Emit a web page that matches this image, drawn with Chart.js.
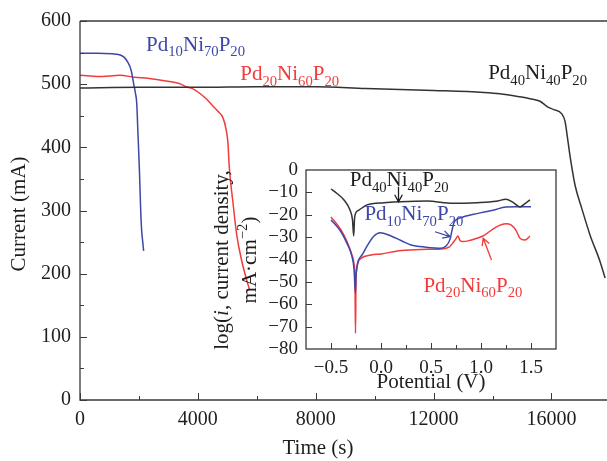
<!DOCTYPE html>
<html><head><meta charset="utf-8">
<script src="https://cdn.jsdelivr.net/npm/chart.js@4/dist/chart.umd.min.js"></script>
<style>
html,body{margin:0;padding:0;background:#fff;}
#wrap{position:relative;width:607px;height:461px;overflow:hidden;background:#fff;}
#main{position:absolute;left:0;top:0;}
#inset{position:absolute;left:200px;top:150px;}
</style></head><body>
<div id="wrap"><canvas id="main" width="607" height="461"></canvas><canvas id="inset" width="370" height="250"></canvas></div>
<script>
// ---------- main chart data ----------
const timeTicks = [0, 4000, 8000, 12000, 16000];
const currentTicks = [0, 100, 200, 300, 400, 500, 600];

const pd10Time    = [0, 600, 1100, 1300, 1420, 1510, 1620, 1735, 1820, 1880, 1925, 1970, 2015, 2060, 2090, 2130, 2160];
const pd10Current = [549, 549, 548, 547, 545, 542, 535, 522, 501, 486, 470, 418, 366, 300, 270, 250, 236];

const pd20Time    = [0, 350, 650, 1000, 1350, 1850, 2350, 2920, 3370, 3600, 3820, 4050, 4300, 4500, 4680, 4850, 4960, 5020, 5070, 5190, 5320, 5480, 5650, 5750];
const pd20Current = [514, 513, 512, 513, 514, 511, 509, 505, 501, 496, 493, 486, 476, 466, 457, 447, 428, 407, 366, 313, 261, 222, 191, 175];

const pd40Time    = [0, 2000, 4000, 6000, 8000, 9700, 12000, 13700, 14250, 14930, 15270, 15610, 15840, 16060, 16350, 16460, 16520, 16630, 16800, 17030, 17310, 17650, 17820];
const pd40Current = [494, 495, 495, 496, 496, 493, 490, 487, 485, 480, 477, 473, 465, 460, 453, 441, 423, 386, 340, 303, 261, 219, 193];

// ---------- inset data ----------
const potentialTicks = [-0.5, 0, 0.5, 1, 1.5];
const logTicks = [0, -10, -20, -30, -40, -50, -60, -70, -80];

const pd40Potential = [-0.5, -0.44, -0.37, -0.31, -0.285, -0.273, -0.265, -0.25, -0.22, -0.14, 0.03, 0.19, 0.46, 0.72, 0.96, 1.15, 1.25, 1.32, 1.39, 1.44, 1.49];
const pd40LogI      = [-8.5, -10.5, -13.4, -17.9, -22.3, -29.5, -22, -19, -17.9, -15.6, -14.6, -14.2, -13.9, -14.9, -14.6, -14.0, -13.1, -14.5, -16.5, -15, -13.4];

const pd10Potential = [-0.5, -0.4, -0.34, -0.29, -0.27, -0.256, -0.25, -0.19, -0.14, -0.07, -0.01, 0.1, 0.2, 0.3, 0.45, 0.6, 0.65, 0.69, 0.71, 0.73, 0.76, 0.82, 0.96, 1.12, 1.25, 1.35, 1.5];
const pd10LogI      = [-22.3, -27.6, -32.8, -38.7, -44, -55, -47, -38, -34, -29.5, -28, -29.5, -31.5, -33.5, -34.5, -35, -34, -31, -27, -23.5, -22, -21, -19.5, -18, -16.5, -16.4, -16.4];

const pd20Potential = [-0.5, -0.4, -0.34, -0.29, -0.27, -0.26, -0.255, -0.25, -0.24, -0.2, -0.1, 0, 0.2, 0.4, 0.6, 0.68, 0.72, 0.745, 0.77, 0.79, 0.82, 0.9, 1.02, 1.15, 1.25, 1.3, 1.35, 1.39, 1.44, 1.49];
const pd20LogI      = [-21, -26.8, -32, -38, -42, -50, -73, -50, -43, -39.5, -38, -37.5, -36, -35.5, -35.3, -34.5, -32.5, -31, -29.5, -31.5, -32, -31.3, -29.5, -25.5, -24, -24.5, -27, -30.5, -31.3, -29.5];

// ---------- labels ----------
const namePd10 = [['Pd',0],['10',1],['Ni',0],['70',1],['P',0],['20',1]];
const namePd20 = [['Pd',0],['20',1],['Ni',0],['60',1],['P',0],['20',1]];
const namePd40 = [['Pd',0],['40',1],['Ni',0],['40',1],['P',0],['20',1]];
const mainXTitle = 'Time (s)';
const mainYTitle = 'Current (mA)';
const insetXTitle = 'Potential (V)';
const insetYTitle1 = [['log(',''],['i','italic'],[', current density,','']];
const insetYTitle2 = [['mA·cm',''],['−2','sup'],[')','']];

const SERIF = "'Liberation Serif','DejaVu Serif',serif";
const BLUE = '#3c47a8', RED = '#f23b3b', BLACK = '#333333', AXIS = '#3a3a3a', TXT = '#1e1e1e';
const zip = (xs, ys) => xs.map((x, i) => ({x, y: ys[i]}));

function drawChem(ctx, parts, x, y, color, size) {
  ctx.save();
  ctx.fillStyle = color; ctx.textAlign = 'left'; ctx.textBaseline = 'alphabetic';
  for (const [t, sub] of parts) {
    const fs = sub ? size * 0.7 : size;
    ctx.font = fs + 'px ' + SERIF;
    ctx.fillText(t, x, sub ? y + size * 0.27 : y);
    x += ctx.measureText(t).width;
  }
  ctx.restore();
}
function drawRotRich(ctx, parts, bx, cy, size, color) {
  ctx.save();
  ctx.translate(bx, cy); ctx.rotate(-Math.PI / 2);
  ctx.fillStyle = color; ctx.textBaseline = 'alphabetic'; ctx.textAlign = 'left';
  const fontOf = s => s === 'italic' ? 'italic ' + size + 'px ' + SERIF : s === 'sup' ? (size * 0.7) + 'px ' + SERIF : size + 'px ' + SERIF;
  let total = 0;
  for (const [t, s] of parts) { ctx.font = fontOf(s); total += ctx.measureText(t).width; }
  let x = -total / 2;
  for (const [t, s] of parts) {
    ctx.font = fontOf(s);
    ctx.fillText(t, x, s === 'sup' ? -size * 0.42 : 0);
    x += ctx.measureText(t).width;
  }
  ctx.restore();
}
function arrow(ctx, x1, y1, x2, y2, color) {
  ctx.save(); ctx.strokeStyle = color; ctx.lineWidth = 1.3;
  const ang = Math.atan2(y2 - y1, x2 - x1), L = 8, s = 0.5;
  ctx.beginPath(); ctx.moveTo(x1, y1); ctx.lineTo(x2, y2);
  ctx.moveTo(x2 - L * Math.cos(ang - s), y2 - L * Math.sin(ang - s));
  ctx.lineTo(x2, y2);
  ctx.lineTo(x2 - L * Math.cos(ang + s), y2 - L * Math.sin(ang + s));
  ctx.stroke(); ctx.restore();
}

const mainDeco = {
  id: 'mainDeco',
  afterDraw(chart) {
    const {ctx, chartArea: a, scales: {x, y}} = chart;
    ctx.save();
    ctx.strokeStyle = AXIS; ctx.lineWidth = 1.3;
    ctx.beginPath();
    ctx.moveTo(a.left, a.top); ctx.lineTo(607, a.top);
    ctx.moveTo(a.left, a.top); ctx.lineTo(a.left, a.bottom); ctx.lineTo(607, a.bottom);
    ctx.stroke();
    ctx.lineWidth = 1;
    ctx.beginPath();
    for (let v = 0; v <= 18000; v += 2000) {
      const px = Math.round(x.getPixelForValue(v)) + 0.5;
      if (px > a.right + 2) continue;
      const L = v % 4000 === 0 ? 7 : 4;
      ctx.moveTo(px, a.bottom); ctx.lineTo(px, a.bottom - L);
    }
    for (let v = 0; v <= 600; v += 50) {
      const py = Math.round(y.getPixelForValue(v)) + 0.5;
      const L = v % 100 === 0 ? 7 : 4;
      ctx.moveTo(a.left, py); ctx.lineTo(a.left + L, py);
    }
    ctx.stroke();
    drawChem(ctx, namePd10, x.getPixelForValue(2243), y.getPixelForValue(553), BLUE, 21);
    drawChem(ctx, namePd20, x.getPixelForValue(5437), y.getPixelForValue(506), RED, 21);
    drawChem(ctx, namePd40, x.getPixelForValue(13850), y.getPixelForValue(508), TXT, 21);
    ctx.fillStyle = TXT; ctx.font = '21px ' + SERIF; ctx.textAlign = 'center'; ctx.textBaseline = 'alphabetic';
    ctx.fillText(mainXTitle, 318, 454);
    drawRotRich(ctx, [[mainYTitle, '']], 25, 214, 21, TXT);
    ctx.restore();
  }
};

const insetDeco = {
  id: 'insetDeco',
  afterDraw(chart) {
    const {ctx, chartArea: a, scales: {x, y}} = chart;
    ctx.save();
    ctx.strokeStyle = AXIS; ctx.lineWidth = 1.3;
    ctx.strokeRect(a.left, a.top, a.right - a.left, a.bottom - a.top);
    ctx.lineWidth = 1;
    ctx.beginPath();
    for (let v = -0.5; v <= 1.5001; v += 0.25) {
      const px = Math.round(x.getPixelForValue(v)) + 0.5;
      const L = Math.abs(v * 2 - Math.round(v * 2)) < 1e-6 ? 6 : 4;
      ctx.moveTo(px, a.bottom); ctx.lineTo(px, a.bottom - L);
    }
    for (let v = -10; v >= -70; v -= 10) {
      const py = Math.round(y.getPixelForValue(v)) + 0.5;
      ctx.moveTo(a.left, py); ctx.lineTo(a.left + 6, py);
    }
    ctx.stroke();
    drawChem(ctx, namePd40, x.getPixelForValue(-0.313), y.getPixelForValue(-7.2), TXT, 21);
    drawChem(ctx, namePd10, x.getPixelForValue(-0.166), y.getPixelForValue(-22.3), BLUE, 21);
    drawChem(ctx, namePd20, x.getPixelForValue(0.424), y.getPixelForValue(-54.4), RED, 21);
    arrow(ctx, x.getPixelForValue(0.175), y.getPixelForValue(-7.5), x.getPixelForValue(0.175), y.getPixelForValue(-14.2), TXT);
    arrow(ctx, x.getPixelForValue(0.54), y.getPixelForValue(-27.6), x.getPixelForValue(0.69), y.getPixelForValue(-29.8), BLUE);
    arrow(ctx, x.getPixelForValue(1.105), y.getPixelForValue(-40.2), x.getPixelForValue(1.022), y.getPixelForValue(-30.5), RED);
    ctx.fillStyle = TXT; ctx.font = '21px ' + SERIF; ctx.textAlign = 'center'; ctx.textBaseline = 'alphabetic';
    ctx.fillText(insetXTitle, (a.left + a.right) / 2, 238);
    drawRotRich(ctx, insetYTitle1, 28, 110, 21, TXT);
    drawRotRich(ctx, insetYTitle2, 56, 110, 21, TXT);
    ctx.restore();
  }
};

const mainTickFont = {family: SERIF, size: 20};
const insetTickFont = {family: SERIF, size: 19};
function lineDs(label, data, color) {
  return {label, data, borderColor: color, backgroundColor: color, borderWidth: 1.5, pointRadius: 0, fill: false, cubicInterpolationMode: 'monotone'};
}
const minus = v => String(v).replace('-', '\u2212');

new Chart(document.getElementById('main'), {
  type: 'line',
  data: {datasets: [
    lineDs('Pd40Ni40P20', zip(pd40Time, pd40Current), BLACK),
    lineDs('Pd10Ni70P20', zip(pd10Time, pd10Current), BLUE),
    lineDs('Pd20Ni60P20', zip(pd20Time, pd20Current), RED)
  ]},
  options: {
    responsive: false, animation: false, devicePixelRatio: 1,
    layout: {padding: {left: 0, right: 1, top: 17, bottom: 0}, autoPadding: false},
    plugins: {legend: {display: false}, tooltip: {enabled: false}},
    scales: {
      x: {type: 'linear', min: 0, max: 17850,
        afterBuildTicks: s => { s.ticks = timeTicks.map(v => ({value: v})); },
        afterFit: s => { s.height = 61; },
        grid: {display: false, drawTicks: false}, border: {display: false},
        ticks: {padding: 8, color: TXT, font: mainTickFont, maxRotation: 0, autoSkip: false, callback: v => String(v)}},
      y: {type: 'linear', min: 0, max: 600,
        afterBuildTicks: s => { s.ticks = currentTicks.map(v => ({value: v})); },
        afterFit: s => { s.width = 80; },
        grid: {display: false, drawTicks: false}, border: {display: false},
        ticks: {padding: 9, color: TXT, font: mainTickFont, autoSkip: false, callback: v => String(v)}}
    }
  },
  plugins: [mainDeco]
});

new Chart(document.getElementById('inset'), {
  type: 'line',
  data: {datasets: [
    lineDs('Pd40Ni40P20', zip(pd40Potential, pd40LogI), BLACK),
    lineDs('Pd10Ni70P20', zip(pd10Potential, pd10LogI), BLUE),
    lineDs('Pd20Ni60P20', zip(pd20Potential, pd20LogI), RED)
  ]},
  options: {
    responsive: false, animation: false, devicePixelRatio: 1,
    layout: {padding: {left: 0, right: 14, top: 20, bottom: 0}, autoPadding: false},
    plugins: {legend: {display: false}, tooltip: {enabled: false}},
    scales: {
      x: {type: 'linear', min: -0.75, max: 1.75,
        afterBuildTicks: s => { s.ticks = potentialTicks.map(v => ({value: v})); },
        afterFit: s => { s.height = 51; },
        grid: {display: false, drawTicks: false}, border: {display: false},
        ticks: {padding: 8, color: TXT, font: insetTickFont, maxRotation: 0, autoSkip: false,
          callback: v => minus(v.toFixed(1))}},
      y: {type: 'linear', min: -80, max: 0,
        afterBuildTicks: s => { s.ticks = logTicks.map(v => ({value: v})); },
        afterFit: s => { s.width = 106; },
        grid: {display: false, drawTicks: false}, border: {display: false},
        ticks: {padding: 8, color: TXT, font: insetTickFont, autoSkip: false, callback: v => minus(v)}}
    }
  },
  plugins: [insetDeco]
});
</script>
</body></html>
